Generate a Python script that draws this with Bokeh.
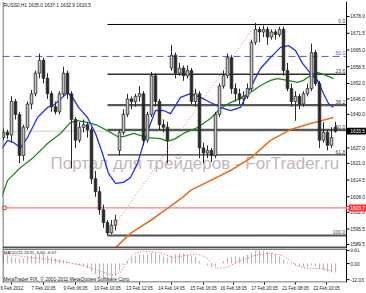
from bokeh.plotting import figure
from bokeh.layouts import column
from bokeh.models import Range1d, FixedTicker
from bokeh.core.properties import value
from bokeh.embed import file_html
from bokeh.resources import INLINE

# ---------------- data ----------------
bar_open = [1631, 1633, 1632, 1645, 1640, 1624, 1635, 1644, 1648, 1656,
            1661, 1654, 1648, 1643, 1641, 1648, 1656, 1648, 1638, 1630,
            1635, 1636, 1634, 1615, 1610, 1603, 1598, 1594, 1597, 1626,
            1633, 1640, 1646, 1645, 1647, 1648, 1630, 1640, 1655, 1645,
            1636, 1635, 1658, 1663, 1656, 1658, 1655, 1657, 1645, 1648,
            1627, 1625, 1626, 1624, 1640, 1651, 1655, 1662, 1650, 1648,
            1646, 1647, 1650, 1668, 1673, 1672, 1673, 1670, 1672, 1671,
            1673, 1657, 1650, 1645, 1647, 1644, 1648, 1650, 1664, 1652,
            1630, 1633, 1628, 1635.0]
bar_high = [1634.5, 1634, 1647, 1646, 1641, 1636, 1645, 1649.5, 1657, 1663.6,
            1662, 1656, 1649, 1645, 1649, 1658.5, 1657, 1649, 1639, 1637,
            1638, 1637, 1635, 1618, 1612, 1605, 1599, 1599, 1601, 1634,
            1642, 1648, 1647, 1648, 1651, 1649, 1641, 1656.5, 1656, 1646,
            1638, 1637, 1667, 1664, 1660, 1659, 1659, 1658, 1650, 1649,
            1629, 1628, 1627, 1641, 1652, 1657, 1663.6, 1663, 1652, 1650,
            1649, 1652, 1669, 1675.5, 1674, 1674.5, 1674, 1673, 1673, 1674,
            1674, 1660, 1652, 1649, 1648, 1649, 1652, 1667.5, 1665, 1653,
            1637, 1634, 1635, 1637.1]
bar_low = [1630, 1630.5, 1629, 1638, 1621, 1622, 1634, 1642, 1647, 1654,
           1652, 1646, 1641, 1640, 1640, 1647, 1646, 1619, 1627, 1629,
           1633, 1631, 1613, 1608, 1601, 1596, 1593, 1593.5, 1595, 1624,
           1632, 1639, 1642, 1643, 1645, 1628, 1629, 1639, 1643, 1634,
           1633, 1621, 1657, 1654, 1655, 1653, 1654, 1644, 1643, 1623,
           1621, 1623, 1621.5, 1623, 1639, 1650, 1654, 1648, 1645, 1644,
           1644, 1646, 1649, 1667, 1668, 1670, 1667, 1669, 1669, 1670,
           1655, 1649, 1643, 1637.5, 1642, 1643, 1647, 1649, 1651, 1627,
           1629, 1626, 1627, 1632.9]
bar_close = [1633, 1632, 1645, 1640, 1624, 1635, 1644, 1648, 1656, 1661,
             1654, 1648, 1643, 1641, 1648, 1656, 1648, 1638, 1630, 1635,
             1636, 1634, 1615, 1610, 1603, 1598, 1594, 1597, 1599, 1633,
             1640, 1646, 1645, 1647, 1648, 1630, 1640, 1655, 1645, 1636,
             1635, 1630, 1663, 1656, 1658, 1655, 1657, 1645, 1648, 1627,
             1625, 1626, 1624, 1640, 1651, 1655, 1662, 1650, 1648, 1646,
             1647, 1650, 1668, 1673, 1672, 1673, 1670, 1672, 1671, 1673,
             1657, 1650, 1645, 1647, 1644, 1648, 1650, 1664, 1652, 1630,
             1633, 1628, 1631, 1633.5]

ma_fast_bar = [-0.75, 1, 2.5, 4.25, 6, 8.5, 11, 12.5, 14.75, 16, 17.25, 18.75, 21, 23,
               24.75, 26.25, 28, 30, 31.75, 33.5, 35, 36.75, 38, 40, 41.75, 44.25, 46.75,
               49.25, 51.75, 54.25, 56.75, 59.25, 61.75, 64.25, 66.75, 69.25, 71.25, 73,
               74.75, 76.75, 78.5, 80, 81.25, 82.5]
ma_fast_val = [1626.0, 1629.9, 1629.1, 1627.1, 1631.0, 1638.8, 1642.7, 1643.5, 1646.6, 1648.5,
               1646.6, 1642.7, 1638.8, 1632.6, 1624.8, 1617.1, 1613.2, 1613.6, 1615.5, 1620.9,
               1628.7, 1636.5, 1641.5, 1641.5, 1640.3, 1646.6, 1648.1, 1646.6, 1644.6, 1642.7,
               1641.5, 1642.7, 1650.4, 1657.8, 1662.1, 1666.0, 1666.7, 1664.8, 1659.8, 1655.9,
               1653.2, 1648.1, 1644.2, 1642.7]

ma_mid_bar = [-0.75, 1, 4.25, 7.5, 11, 14.25, 16.75, 18.5, 21, 23.5, 26, 28.5, 30, 32.5, 36,
              39.25, 41, 43, 45, 48.5, 51.75, 54.25, 56.75, 59.25, 61.75, 64.25, 66.75, 68.5,
              71, 73.5, 75, 76.75, 78.5, 80, 82.5]
ma_mid_val = [1606.6, 1614.3, 1619.4, 1623.3, 1628.7, 1632.6, 1636.9, 1637.6, 1636.9, 1635.7,
              1633.7, 1631.4, 1631.4, 1632.6, 1631.0, 1630.6, 1629.5, 1630.6, 1632.6, 1634.9,
              1638.4, 1642.3, 1644.6, 1646.2, 1648.5, 1651.2, 1653.2, 1653.9, 1653.2, 1652.4,
              1653.2, 1655.1, 1656.3, 1655.5, 1653.9]

ma_slow_bar = [27.5, 31.75, 36.75, 41, 45, 46.75, 53.25, 56.75, 61.75, 66.75, 71.75, 76.75, 82.5]
ma_slow_val = [1587.5, 1593.8, 1598.8, 1603.5, 1608.1, 1610.5, 1615.5, 1618.2, 1623.0,
               1629.9, 1634.1, 1636.5, 1638.8]

macd_hist = [6, 6, 5, 4, 3.5, 4, 5, 6, 7, 7.5,
             7, 6, 5, 4, 3, 2.5, 1.5, 0, -1, -1.5,
             -2, -3.5, -6, -8, -10, -11, -11.5, -11, -9, -5,
             -1, 2, 4.5, 6, 7, 6.5, 7, 8, 7.5, 6.5,
             5.5, 4.5, 6, 7, 7.5, 7.5, 7, 6, 5, 2,
             0, -1.5, -2.5, -2, 0, 2, 4.5, 5, 5, 5,
             5.5, 6.5, 8, 9.5, 9.8, 9.5, 9, 8, 7, 5.5,
             3, 1, -0.5, -1.5, -2, -2.5, -2, -1, -2, -4,
             -5, -6, -6.5, -6.6]
signal_bar = [-0.75, 7.5, 13.5, 20, 25, 27.5, 29.25, 31, 32.5, 35, 39.25, 42.5, 45,
              48.25, 50.75, 53.25, 55.75, 59.25, 62.5, 66.75, 70, 73.25, 75.75, 79.25, 82.5]
signal_val = [7.3, 4.4, 2.2, -1.5, -6.6, -8.8, -6.6, 2.2, 7.3, 9.5, 8.0, 4.4, 5.8,
              7.3, 4.4, -3.6, -2.9, 2.2, 5.8, 8.0, 5.8, -1.5, -3.6, -3.6, -6.07]

price_ticks = [1678.0, 1671.5, 1665.0, 1658.5, 1652.0, 1646.0, 1640.0, 1633.5,
               1627.0, 1621.0, 1614.5, 1608.0, 1602.0, 1595.5, 1589.5]
macd_ticks = [9.81, 0, -12.03]
macd_tick_labels = ["9.81", "0.00", "-12.03"]
date_tick_bar = [2, 10, 18, 26, 34, 42, 50, 57.5, 65.25, 73, 80.75]
date_labels = ["6 Feb 2012", "7 Feb 20:05", "9 Feb 06:05", "10 Feb 10:05", "13 Feb 12:05",
               "14 Feb 14:05", "15 Feb 16:05", "16 Feb 18:05", "17 Feb 20:05",
               "21 Feb 08:05", "22 Feb 10:05"]

fib_ratios = [0.0, 0.236, 0.382, 0.5, 0.618, 1.0]
fib_names = ["0.0", "23.6", "38.2", "50.0", "61.8", "100.0"]
fib_low, fib_high = 1593.0, 1674.9
fib_low_bar, fib_high_bar = 26, 63
dashed_level = 1662.5
dashed_name = "50.0"
red_level = 1603.7
bid_price = 1633.5
title_text = "RUSS0,H1  1635.0 1637.1 1632.9 1633.5"
macd_text = "MACD(12,26,9) -6.60 -6.07"
copyright_text = "MetaTrader FIX, \u00a9 2001-2011 MetaQuotes Software Corp."
watermark = "\u041f\u043e\u0440\u0442\u0430\u043b \u0434\u043b\u044f \u0442\u0440\u0435\u0439\u0434\u0435\u0440\u043e\u0432 - ForTrader.ru"

FONT = value("Liberation Sans")
X0 = -0.25          # left edge of the chart area (bars)
XA = 85.75          # price-axis line position (bars)
X1 = 90.75          # right edge of canvas (bars)
PY0, PY1 = 1587.94, 1683.82
MY0, MY1 = -14.17, 11.26

# ---------------- main price panel ----------------
p = figure(width=366, height=248, x_range=Range1d(X0, X1), y_range=Range1d(PY0, PY1),
           output_backend="svg", toolbar_location=None, x_axis_location=None,
           y_axis_location=None, min_border_left=2, min_border_right=0,
           min_border_top=1, min_border_bottom=0)
p.grid.visible = False
p.outline_line_color = None

# bid line (light)
p.segment(x0=X0, y0=bid_price, x1=XA, y1=bid_price, line_color="#c8c8c8", line_width=1)
# dashed blue line and red line
p.segment(x0=X0, y0=dashed_level, x1=XA, y1=dashed_level, line_color="#5a5ad0",
          line_width=1, line_dash="7 4")
p.segment(x0=X0, y0=red_level, x1=XA, y1=red_level, line_color="#ff6060", line_width=1)
p.scatter(x=[X0 + 0.45], y=[red_level], marker="square", size=3.5, fill_color="white",
          line_color="#ff3030", line_width=1)

# fibonacci levels
fib_levels = [fib_high - r * (fib_high - fib_low) for r in fib_ratios]
fib_colors = ["#000000", "#303030", "#585858", "#585858", "#303030", "#505050"]
fib_widths = [1, 1.4, 2.2, 2.2, 1.4, 2]
for lvl, col, w in zip(fib_levels, fib_colors, fib_widths):
    p.segment(x0=fib_low_bar, y0=lvl, x1=XA, y1=lvl, line_color=col, line_width=w)
p.line([fib_low_bar, fib_high_bar], [fib_low, fib_high], line_color="#ff7070",
       line_width=1, line_dash="1 2")

# watermark
p.text(x=[11.75], y=[1620.9], text=[watermark], text_font=FONT,
       text_font_size="17px", text_color="#a08c8c", text_alpha=0.65,
       text_baseline="alphabetic", text_align="left")

# moving averages
p.line(ma_slow_bar, ma_slow_val, line_color="#e8701e", line_width=1.6)
p.line(ma_mid_bar, ma_mid_val, line_color="#1a8a1a", line_width=1.3)
p.line(ma_fast_bar, ma_fast_val, line_color="#2030f0", line_width=1.3)

# candles
idx = list(range(len(bar_close)))
top = [max(o, c) for o, c in zip(bar_open, bar_close)]
bot = [min(o, c) for o, c in zip(bar_open, bar_close)]
fill = ["#c4c4c4" if c >= o else "#282828" for o, c in zip(bar_open, bar_close)]
p.segment(x0=idx, y0=bar_low, x1=idx, y1=bar_high, line_color="#2a2a2a", line_width=1)
p.vbar(x=idx, width=0.65, top=top, bottom=bot, fill_color=fill,
       line_color="#2a2a2a", line_width=0.8)

# fib labels
p.text(x=[XA - 0.3] * len(fib_levels), y=[l + 0.4 for l in fib_levels], text=fib_names,
       text_font=FONT, text_font_size="5px", text_color="#404040",
       text_align="right", text_baseline="bottom")
p.text(x=[XA - 0.3], y=[dashed_level + 0.6], text=[dashed_name], text_font=FONT,
       text_font_size="5px", text_color="#5a5ad0", text_align="right", text_baseline="bottom")

# title
p.text(x=[0], y=[1682.2], text=[title_text], text_font=FONT, text_font_size="4.8px",
       text_color="#202020", text_baseline="middle", text_align="left")

# frame borders
p.segment(x0=X0 + 0.12, y0=PY0, x1=X0 + 0.12, y1=PY1, line_color="#404040", line_width=1)
p.segment(x0=X0, y0=PY0 + 0.3, x1=XA, y1=PY0 + 0.3, line_color="#505050", line_width=2.5)

# price axis (drawn by hand at the right of the chart area)
p.segment(x0=XA, y0=PY0, x1=XA, y1=PY1, line_color="black", line_width=1)
p.segment(x0=[XA] * len(price_ticks), y0=price_ticks, x1=[XA + 0.75] * len(price_ticks),
          y1=price_ticks, line_color="black", line_width=1)
p.text(x=[XA + 0.95] * len(price_ticks), y=price_ticks,
       text=["%.1f" % v for v in price_ticks], text_font=FONT, text_font_size="4.8px",
       text_color="#202020", text_baseline="middle", text_align="left")

# price boxes on the axis
p.quad(left=[XA + 0.1], right=[X1], bottom=[bid_price - 1.35], top=[bid_price + 1.35],
       fill_color="black", line_color=None)
p.text(x=[XA + 0.95], y=[bid_price], text=["%.1f" % bid_price], text_font=FONT,
       text_font_size="4.8px", text_color="white", text_baseline="middle", text_align="left")
p.quad(left=[XA + 0.6], right=[X1], bottom=[red_level - 1.35], top=[red_level + 1.35],
       fill_color="#ff3030", line_color=None)
p.scatter(x=[XA + 0.3], y=[red_level], marker="square", size=3, fill_color="white",
          line_color="#ff3030", line_width=1)
p.text(x=[XA + 0.95], y=[red_level], text=["%.1f" % red_level], text_font=FONT,
       text_font_size="4.8px", text_color="white", text_baseline="middle", text_align="left")

# ---------------- MACD panel ----------------
q = figure(width=366, height=45, x_range=p.x_range, y_range=Range1d(MY0, MY1),
           output_backend="svg", toolbar_location=None, x_axis_location="below",
           y_axis_location=None, min_border_left=2, min_border_right=0,
           min_border_top=0, min_border_bottom=10)
q.grid.visible = False
q.outline_line_color = None

qx = q.xaxis[0]
qx.ticker = FixedTicker(ticks=date_tick_bar)
qx.major_label_overrides = {k: v for k, v in zip(date_tick_bar, date_labels)}
qx.major_label_text_font_size = "4.5px"
qx.major_label_text_font = "Liberation Sans"
qx.major_label_text_color = "#202020"
qx.major_tick_out = 2
qx.major_tick_in = 0
qx.minor_tick_out = 0
qx.minor_tick_in = 0
qx.major_label_standoff = 1
qx.axis_line_color = None

q.vbar(x=idx, width=0.3, top=macd_hist, bottom=0, fill_color="#b8b8b8", line_color=None)
q.line(signal_bar, signal_val, line_color="#ff5050", line_width=1, line_dash="1 2")

q.text(x=[0], y=[8.4], text=[macd_text], text_font=FONT, text_font_size="4.4px",
       text_color="#202020", text_baseline="middle", text_align="left")
q.text(x=[0], y=[-11.6], text=[copyright_text], text_font=FONT, text_font_size="4.9px",
       text_color="#202020", text_baseline="middle", text_align="left")

# borders
q.segment(x0=X0, y0=MY1 - 0.3, x1=XA, y1=MY1 - 0.3, line_color="#505050", line_width=1.5)
q.segment(x0=X0 + 0.12, y0=MY0, x1=X0 + 0.12, y1=MY1, line_color="#404040", line_width=1)
q.segment(x0=X0, y0=MY0 + 0.35, x1=XA, y1=MY0 + 0.35, line_color="#404040", line_width=1)

# MACD axis
q.segment(x0=XA, y0=MY0, x1=XA, y1=MY1, line_color="black", line_width=1)
q.segment(x0=[XA] * len(macd_ticks), y0=macd_ticks, x1=[XA + 0.75] * len(macd_ticks),
          y1=macd_ticks, line_color="black", line_width=1)
q.text(x=[XA + 0.95] * len(macd_ticks), y=macd_ticks, text=macd_tick_labels, text_font=FONT,
       text_font_size="4.8px", text_color="#202020", text_baseline="middle", text_align="left")

layout = column(p, q, spacing=0)
open("out.html", "w").write(file_html(layout, INLINE))
